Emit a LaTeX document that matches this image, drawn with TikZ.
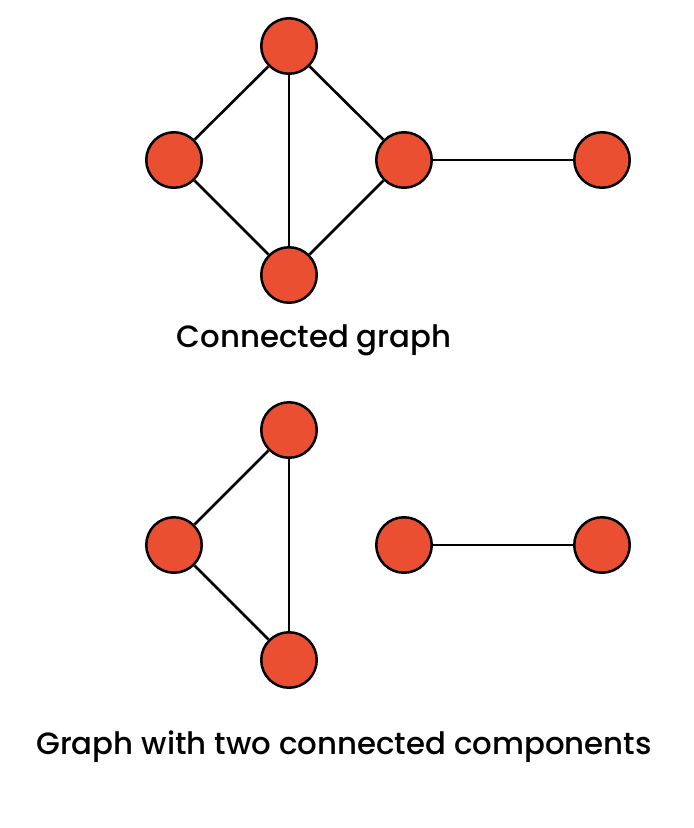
\documentclass[tikz,border=0pt]{standalone}
\usepackage{fontspec}
\setmainfont{Poppins}[UprightFont=* Medium]
\definecolor{vred}{HTML}{EB4F32}
\begin{document}
\begin{tikzpicture}[x=1pt,y=-1pt,
  vert/.style={circle,draw=black,fill=vred,line width=2.5pt,minimum size=55.5pt,inner sep=0pt},
  edge/.style={line width=2.6pt},
  lbl/.style={font=\fontsize{30.8}{36}\selectfont,inner sep=0pt}]
\useasboundingbox (0,0) rectangle (694,828);
\node[vert] (a) at (289,46) {};
\node[vert] (b) at (174,160) {};
\node[vert] (c) at (404,160) {};
\node[vert] (d) at (602,160) {};
\node[vert] (e) at (289,275) {};
\draw[edge] (a) -- (b);
\draw[edge] (a) -- (c);
\draw[edge] (a) -- (e);
\draw[edge] (b) -- (e);
\draw[edge] (c) -- (e);
\draw[edge] (c) -- (d);
\node[lbl] (t1) at (314,340) {Connected graph};
\node[vert] (f) at (289,430) {};
\node[vert] (g) at (174,545) {};
\node[vert] (h) at (289,660) {};
\node[vert] (i) at (404,545) {};
\node[vert] (j) at (602,545) {};
\draw[edge] (f) -- (g);
\draw[edge] (f) -- (h);
\draw[edge] (g) -- (h);
\draw[edge] (i) -- (j);
\node[lbl] (t2) at (344,747) {Graph with two connected components};
\end{tikzpicture}
\end{document}
